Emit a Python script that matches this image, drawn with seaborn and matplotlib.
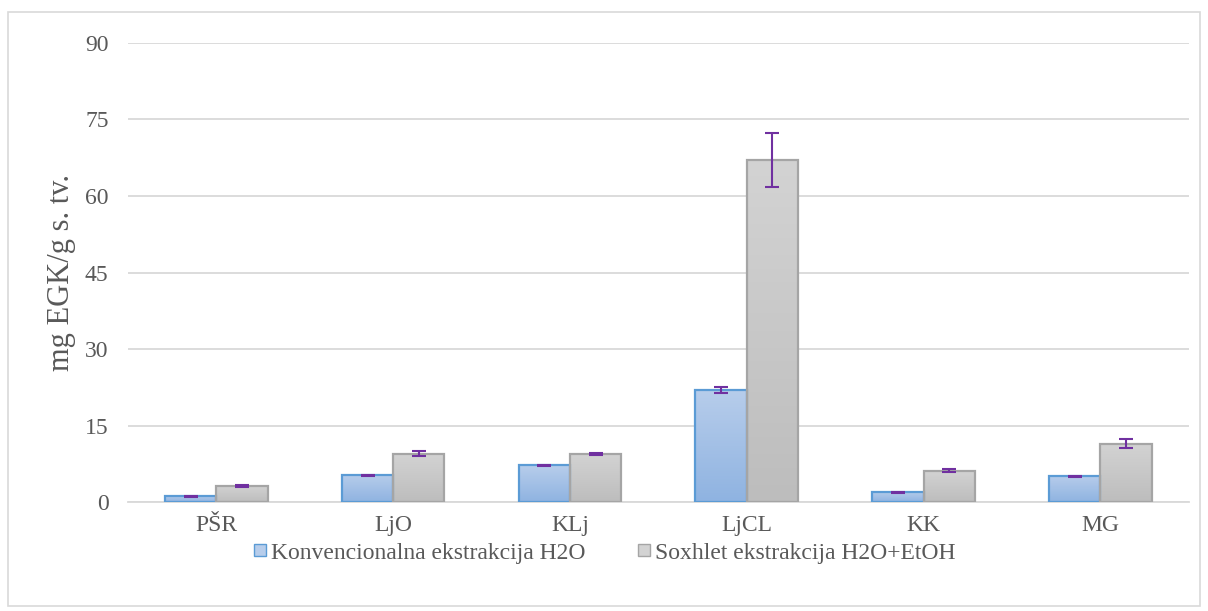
import numpy as np
import pandas as pd
import matplotlib.pyplot as plt
import seaborn as sns
from matplotlib.patches import Rectangle
from matplotlib.lines import Line2D

categories = ['PŠR', 'LjO', 'KLj', 'LjCL', 'KK', 'MG']
series = ['Konvencionalna ekstrakcija H2O', 'Soxhlet ekstrakcija H2O+EtOH']
conv_vals = [1.2, 5.3, 7.2, 22.0, 2.0, 5.1]
conv_err = [0.1, 0.1, 0.15, 0.6, 0.1, 0.1]
sox_vals = [3.2, 9.5, 9.5, 67.0, 6.2, 11.5]
sox_err = [0.15, 0.5, 0.15, 5.3, 0.3, 0.8]
yticks = [0, 15, 30, 45, 60, 75, 90]

df = pd.DataFrame({
    'kat': categories * 2,
    'serija': [series[0]] * 6 + [series[1]] * 6,
    'val': conv_vals + sox_vals,
    'err': conv_err + sox_err,
})

sns.set_theme(style='white')
plt.rcParams['font.family'] = ['Liberation Serif', 'DejaVu Serif']
txt = '#595959'

fig = plt.figure(figsize=(12.08, 6.11), dpi=100)
ax = fig.add_axes([0.106, 0.178, 0.878, 0.752])

edge_cols = ['#5b9bd5', '#a5a5a5']
grads = [('#b7cdeb', '#8fb3e1'), ('#d3d3d3', '#bdbdbd')]
sns.barplot(data=df, x='kat', y='val', hue='serija', order=categories, hue_order=series,
            palette=['#a3c0e7', '#c8c8c8'], width=0.58, errorbar=None, legend=False, ax=ax,
            zorder=3)

ax.set_ylim(0, 90)
ax.set_xlim(-0.5, 5.5)

# gradient fill + error bars
bar_conts = list(ax.containers)
for i, cont in enumerate(bar_conts):
    sub = df[df['serija'] == series[i]]
    c_top, c_bot = grads[i]
    cmap = sns.blend_palette([c_bot, c_top], as_cmap=True)
    xs = []
    for bar in cont:
        bar.set_edgecolor(edge_cols[i])
        bar.set_linewidth(1.6)
        x0, w, h = bar.get_x(), bar.get_width(), bar.get_height()
        im = ax.imshow(np.linspace(0, 1, 100).reshape(-1, 1), cmap=cmap, origin='lower',
                       aspect='auto', extent=[x0, x0 + w, 0, h], zorder=3.5)
        im.set_clip_path(bar)
        bar.set_facecolor('none')
        bar.set_zorder(4)
        xs.append(x0 + w / 2)
    ax.errorbar(xs, sub['val'], yerr=sub['err'], fmt='none', ecolor='#7030a0',
                elinewidth=1.5, capsize=5, capthick=1.5, zorder=5)

ax.set_xlim(-0.5, 5.5)
ax.set_ylim(0, 90)
ax.set_yticks(yticks)
ax.yaxis.grid(True, color='#d9d9d9', linewidth=1.3, zorder=0)
ax.set_axisbelow(True)
for s in ['top', 'right', 'left']:
    ax.spines[s].set_visible(False)
ax.spines['bottom'].set_color('#d9d9d9')
ax.spines['bottom'].set_linewidth(1.3)
ax.tick_params(axis='both', length=0, labelsize=17, labelcolor=txt)
ax.tick_params(axis='y', pad=14)
ax.tick_params(axis='x', pad=9)
ax.set_xlabel('')
ax.set_ylabel('mg EGK/g s. tv.', fontsize=22, color=txt)
ax.yaxis.set_label_coords(-0.049, 0.5)

handles = [Line2D([], [], marker='s', linestyle='none', markersize=8,
                  markerfacecolor=grads[k][0], markeredgecolor=edge_cols[k]) for k in range(2)]
fig.legend(handles, series, loc='center', bbox_to_anchor=(0.5, 0.095), ncol=2,
           frameon=False, fontsize=17, labelcolor=txt, handlelength=0.6,
           handletextpad=0.15, columnspacing=2.2)

fig.patches.append(Rectangle((0.007, 0.008), 0.986, 0.972, transform=fig.transFigure,
                             fill=False, edgecolor='#d9d9d9', linewidth=1.2))

fig.savefig('out.png', dpi=100)
